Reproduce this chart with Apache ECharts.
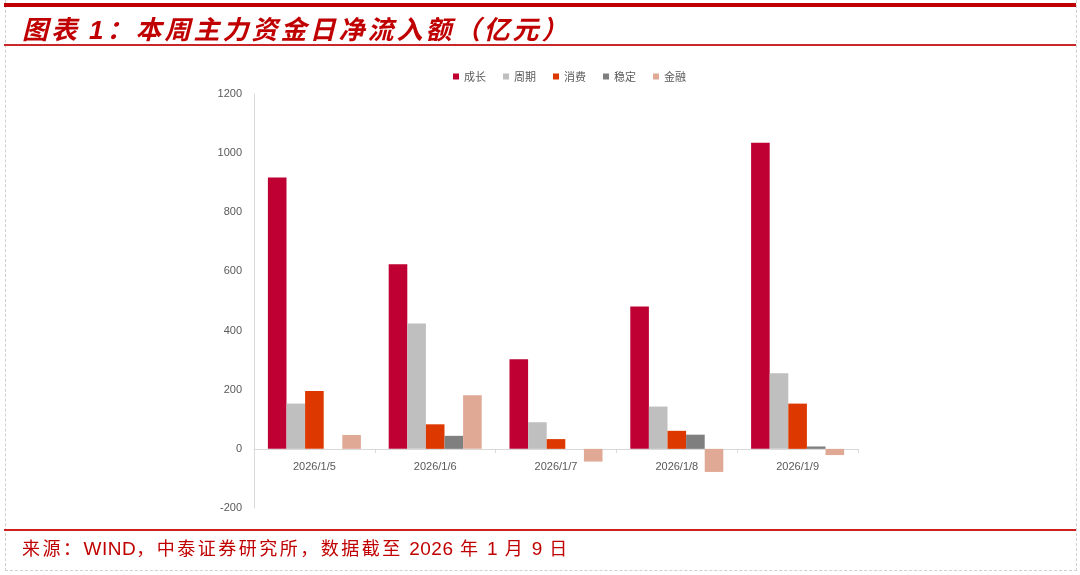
<!DOCTYPE html>
<html>
<head>
<meta charset="utf-8">
<script src="https://cdn.jsdelivr.net/npm/echarts@6/dist/echarts.min.js"></script>
<style>
    html, body { margin: 0; padding: 0; background: #fff; }
    #wrap { position: relative; width: 1080px; height: 575px; overflow: hidden; }
    #topbar { position: absolute; left: 4px; top: 3px; width: 1072px; height: 4px; background: #c00000; }
    #title { position: absolute; left: 22px; top: 9px; font-family: "Noto Sans CJK SC"; font-size: 26px; letter-spacing: 3px; font-weight: bold; font-style: italic; color: #c00000; white-space: nowrap; }
    #titleline { position: absolute; left: 4px; top: 44px; width: 1072px; height: 2px; background: #c8282a; }
    #frame { position: absolute; left: 5px; top: 0; width: 1070px; height: 570px; border-left: 1px dashed #d0d0d0; border-right: 1px dashed #d0d0d0; border-bottom: 1px dashed #d0d0d0; }
    #srcline { position: absolute; left: 4px; top: 529px; width: 1072px; height: 2px; background: #d02020; }
    #source { position: absolute; left: 22px; top: 534px; font-family: "Noto Sans CJK SC"; font-size: 18px; letter-spacing: 2.5px; color: #c00000; white-space: nowrap; }
    #source .n { font-family: "Liberation Sans", Arial, sans-serif; font-size: 19px; letter-spacing: 0.5px; }
    #main { position: absolute; left: 0; top: 0; width: 1080px; height: 575px; }
</style>
</head>
<body>
<div id="wrap">
    <div id="frame"></div>
    <div id="main"></div>
    <div id="topbar"></div>
    <div id="title">图表 <span style="font-family:'Liberation Sans',Arial,sans-serif;">1</span>：本周主力资金日净流入额（亿元）</div>
    <div id="titleline"></div>
    <div id="srcline"></div>
    <div id="source">来源：<span class="n">WIND</span>，中泰证券研究所，数据截至 <span class="n">2026</span> 年 <span class="n">1</span> 月 <span class="n">9</span> 日</div>
</div>
<script>
var dates = ['2026/1/5', '2026/1/6', '2026/1/7', '2026/1/8', '2026/1/9'];
var growth = [918, 624, 303, 481, 1035];      // 成长
var cycle = [153, 424, 90, 143, 256];         // 周期
var consume = [196, 83, 33, 61, 153];         // 消费
var stable = [0, 44, 0, 48, 8];               // 稳定
var finance = [47, 181, -43, -78, -21];       // 金融
var names = ['成长', '周期', '消费', '稳定', '金融'];
var colors = ['#be0032', '#bfbfbf', '#dc3800', '#7f7f7f', '#e0a995'];

var chart = echarts.init(document.getElementById('main'));

var allData = [growth, cycle, consume, stable, finance];
var series = [];
for (var i = 0; i < names.length; i++) {
    series.push({
        name: names[i],
        type: 'bar',
        data: allData[i],
        barGap: '0%',
        barCategoryGap: '23%',
        itemStyle: { color: colors[i] }
    });
}

var option = {
    animation: false,
    color: colors,
    legend: {
        top: 66,
        left: 448,
        itemWidth: 6,
        itemHeight: 6,
        itemGap: 17,
        icon: 'rect',
        textStyle: { fontSize: 11, color: '#595959', fontFamily: 'Noto Sans CJK SC' },
        data: names
    },
    grid: {
        left: 254,
        right: 222,
        top: 94,
        bottom: 67
    },
    xAxis: {
        type: 'category',
        data: dates,
        axisLine: { onZero: true, lineStyle: { color: '#d9d9d9' } },
        axisTick: { show: true, length: 4, lineStyle: { color: '#d9d9d9' } },
        // labels sit just under the zero line, as in the picture
        axisLabel: { fontSize: 11, color: '#595959', margin: -47, fontFamily: 'Liberation Sans' }
    },
    yAxis: {
        type: 'value',
        min: -200,
        max: 1200,
        interval: 200,
        axisLine: { show: true, lineStyle: { color: '#d9d9d9' } },
        axisTick: { show: false },
        splitLine: { show: false },
        axisLabel: {
            fontSize: 11, color: '#595959', margin: 12, fontFamily: 'Liberation Sans',
            formatter: function (v) { return String(v); }
        }
    },
    series: series
};
chart.setOption(option);
</script>
</body>
</html>
